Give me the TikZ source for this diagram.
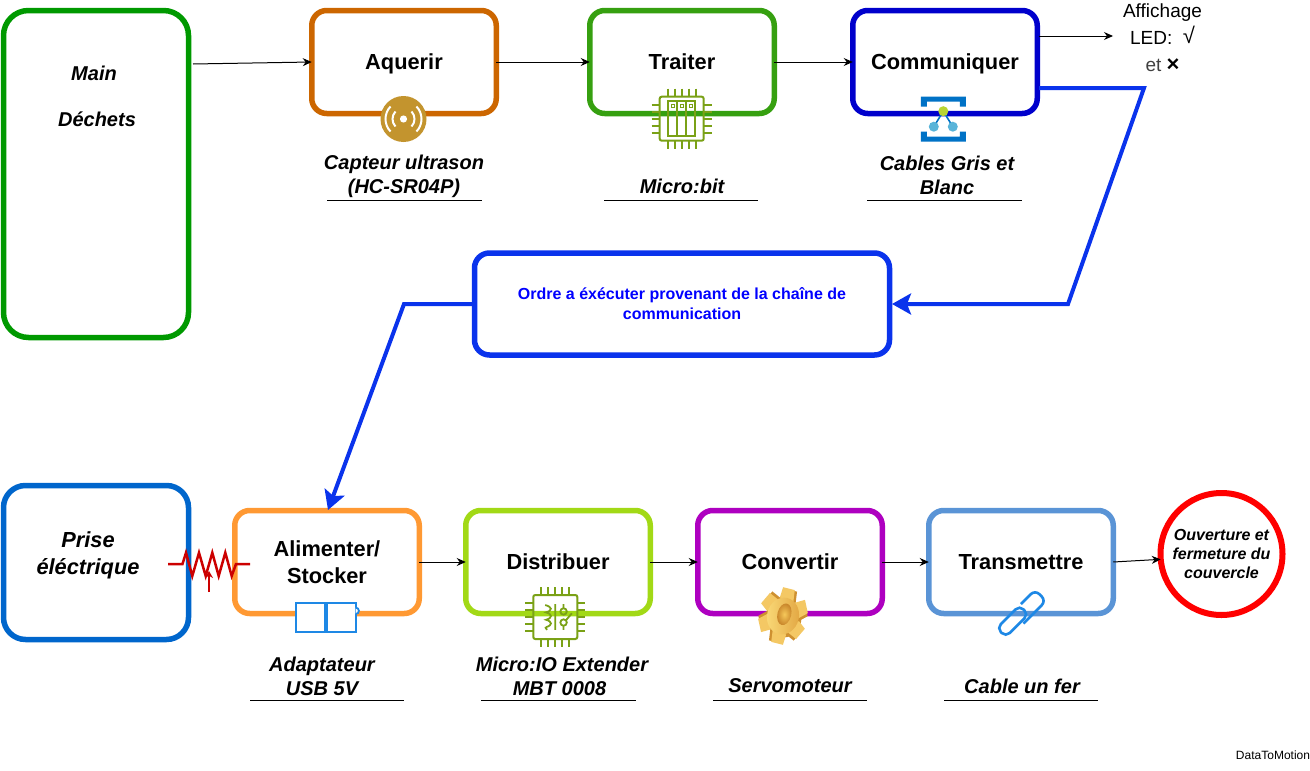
\documentclass[tikz,border=0pt]{standalone}
\usepackage{fontspec}
\setmainfont{Liberation Sans}
\usepackage{tikz}
\usetikzlibrary{positioning, arrows.meta}

\definecolor{cmain}{HTML}{009900}
\definecolor{caq}{HTML}{CC6600}
\definecolor{ctr}{HTML}{36A010}
\definecolor{ccom}{HTML}{0000CC}
\definecolor{cordre}{HTML}{0A33EC}
\definecolor{cprise}{HTML}{0066CC}
\definecolor{cali}{HTML}{FF9933}
\definecolor{cdist}{HTML}{A2D916}
\definecolor{cconv}{HTML}{AE00C0}
\definecolor{ctrans}{HTML}{5A94D6}
\definecolor{cchip}{HTML}{7AA116}
\definecolor{cicon}{HTML}{1E88E5}
\definecolor{cbrass}{HTML}{C3942E}
\definecolor{cazure}{HTML}{0072C6}
\definecolor{cnode}{HTML}{59B4D9}
\definecolor{clime}{HTML}{B8D432}
\definecolor{cres}{HTML}{CC0000}

\tikzset{
  box/.style={draw, fill=white, line width=5.5pt, rounded corners=15pt, outer sep=0pt,
    minimum width=184.5pt, minimum height=103pt, align=center,
    font=\bfseries\fontsize{21.8}{27}\selectfont},
  one/.style={text height=18pt, text depth=3.4pt},
  capt/.style={align=center, inner sep=0pt, font=\bfseries\itshape\fontsize{20}{24}\selectfont},
  uline/.style={line width=1pt},
  flow/.style={->, line width=1pt},
  order/.style={->, cordre, line width=4pt, >={Stealth[length=19pt,width=21pt,inset=4pt]}},
  chip/.pic={
    \draw[cchip, line width=2pt, rounded corners=2pt] (-22,-22) rectangle (22,22);
    \foreach \p in {-14,-7,0,7,14} {
      \draw[cchip, line width=2pt] (\p,-30) -- (\p,-22) (\p,22) -- (\p,30)
        (-30,\p) -- (-22,\p) (22,\p) -- (30,\p);
    }
  }
}

\begin{document}
\begin{tikzpicture}[x=1pt, y=-1pt, >={Stealth[length=9pt,width=8pt]}, on grid, node distance=231pt]
\useasboundingbox (0,0) rectangle (1310,771);

%% top row
\node[box, draw=cmain, rounded corners=25pt, minimum width=185pt, minimum height=327pt] (main) at (96,174) {};
\node[capt, font=\bfseries\itshape\fontsize{20}{46}\selectfont] (dechets) at (97,96) {Main\hspace*{6pt}\\Déchets};
\node[box, one, draw=caq] (aq) at (404,62) {Aquerir};
\node[box, one, draw=ctr] (tr) [right=278pt of aq] {Traiter};
\node[box, one, draw=ccom] (com) [right=263pt of tr] {Communiquer};
\node[align=center, inner sep=0pt, font=\fontsize{19}{27}\selectfont] (led) at (1162.5,38) {Affichage\\LED:\ \ \raisebox{1pt}{\fontsize{22}{27}\selectfont √}\\\textcolor{black!75}{et} \textbf{\fontsize{22}{27}\selectfont ×}};

\node[capt] (captaq) [below=114.5pt of aq] {Capteur ultrason\\(HC-SR04P)};
\node[capt] (capttr) [below=124pt of tr] {Micro:bit};
\node[capt] (captcom) [below right=113pt and 2pt of com] {Cables Gris et\\Blanc};

%% middle
\node[box, draw=cordre, minimum width=415pt, minimum height=102pt,
  text=blue, font=\bfseries\fontsize{16}{20}\selectfont] (ordre) at (682,304)
  {Ordre a éxécuter provenant de la chaîne de\\communication};

%% bottom row
\node[box, draw=cprise, rounded corners=22pt, minimum width=185pt, minimum height=154pt] (prise) at (96,562.5) {};
\node[capt, font=\bfseries\itshape\fontsize{21.8}{27}\selectfont] (prisetxt) at (88,555.5) {Prise\\éléctrique};
\node[box, draw=cali] (ali) at (327,562) {Alimenter/\\Stocker};
\node[box, one, draw=cdist] (dist) [right of=ali] {Distribuer};
\node[box, one, draw=cconv] (conv) [right=232pt of dist] {Convertir};
\node[box, one, draw=ctrans] (trans) [right of=conv] {Transmettre};
\node[circle, draw=red, fill=white, line width=6pt, minimum size=122pt, inner sep=0pt, outer sep=0pt, align=center,
  font=\bfseries\itshape\fontsize{16}{19}\selectfont] (ouv) at (1221.5,554) {Ouverture et\\fermeture du\\couvercle};

\node[capt] (captali) [below left=114pt and 5pt of ali] {Adaptateur\\USB 5V};
\node[capt] (captdist) [below right=114pt and 4pt of dist] {Micro:IO Extender\\MBT 0008\hspace*{5pt}};
\node[capt] (captconv) [below=124pt of conv] {Servomoteur};
\node[capt] (capttrans) [below right=124pt and 1pt of trans] {Cable un fer};

\node[inner sep=0pt, font=\fontsize{12}{14}\selectfont] (brand) at (1273,755) {DataToMotion};

%% underlines
\foreach \a/\b/\y in {327/482/200, 604/758/200, 867/1022/200, 250/404/700, 481/636/700, 713/867/700, 944/1098/700} {
  \coordinate (ulA) at (\a,\y);
  \coordinate (ulB) at (\b,\y);
  \draw[uline] (ulA) -- (ulB);
}

%% arrows
\coordinate (mainout) at (193,64);
\coordinate (comout) at (1039,36);
\coordinate (ledin) at (1113,36);
\coordinate (bendA) at (1144,88);
\coordinate (bendB) at (1068,304);
\coordinate (comblue) at (1039,88);
\coordinate (ordrein) at (892,304);
\coordinate (bendC) at (404,304);
\coordinate (alitop) at (328,510);
\draw[flow] (mainout) -- (aq.west);
\draw[flow] (aq) -- (tr);
\draw[flow] (tr) -- (com);
\draw[flow] (comout) -- (ledin);
\draw[flow] (ali) -- (dist);
\draw[flow] (dist) -- (conv);
\draw[flow] (conv) -- (trans);
\draw[flow] (trans.east) -- (ouv.185);
\draw[order] (comblue) -- (bendA) -- (bendB) -- (ordrein);
\draw[order] (ordre.west) -- (bendC) -- (alitop);

%% capteur icon
\begin{scope}[shift={(403.5,119)}]
  \fill[cbrass] (0,0) circle (23);
  \fill[white] (0,0) circle (3.6);
  \draw[white, line width=2pt] (137:11) arc (137:223:11) (-43:11) arc (-43:43:11);
  \draw[white, line width=2pt] (136:18) arc (136:224:18) (-44:18) arc (-44:44:18);
\end{scope}

%% micro:bit
\begin{scope}[shift={(681.7,118.7)}]
  \pic {chip};
  \draw[cchip, line width=2pt] (-13.5,-17.5) rectangle (13.5,17.5)
    (-4.5,-17.5) -- (-4.5,17.5) (4.5,-17.5) -- (4.5,17.5);
  \foreach \p in {-9,0,9} \draw[cchip, line width=1pt] (\p-1.5,-14.5) rectangle (\p+1.5,-11.5);
\end{scope}

%% azure
\begin{scope}[shift={(943.3,118.7)}]
  \fill[cazure] (-22.5,-22) rectangle (22.5,-17) (-22.5,-22) rectangle (-16.5,-12) (16.5,-22) rectangle (22.5,-12)
    (-22.5,18) rectangle (22.5,23) (-22.5,13) rectangle (-16.5,23) (16.5,13) rectangle (22.5,23);
  \draw[cazure, line width=1.6pt] (-9.5,8) -- (0,-7.5) -- (9.5,8);
  \fill[clime] (0,-7.5) circle (5);
  \fill[cnode] (-9.5,8) circle (5) (9.5,8) circle (5);
\end{scope}

%% resistor
\coordinate (resA) at (168,564);
\coordinate (resB) at (250,564);
\draw[cres, line width=2.5pt] (resA) -- (182.5,564) -- (186,552.7) -- (192.3,576) -- (199,552.7)
  -- (205.7,576) -- (212.3,552.7) -- (218.7,576) -- (225.3,552.7) -- (231.7,576) -- (236,564) -- (resB);
\draw[cres, line width=2.5pt, -{Stealth[length=7pt,width=8pt]}] (209,592) -- (209,571);

%% battery
\draw[cicon, line width=1.8pt, fill=white] (296,603.3) rectangle (325,631.7);
\draw[cicon, line width=1.8pt, fill=white] (327.3,603.3) rectangle (355.7,631.7);
\draw[cicon, line width=1.8pt, fill=white] (355.7,614) arc (90:-90:3.2);

%% micro:IO
\begin{scope}[shift={(555.3,617)}, scale=0.92]
  \pic {chip};
  \draw[cchip, line width=1.8pt] (-11,-13) .. controls (-3,-11) and (-3,-7) .. (-10,-5) .. controls (-3,-3) and (-3,1) .. (-10,3)
    .. controls (-3,5) and (-3,9) .. (-10,11) (-11,11) -- (-9,14)
    (0,-14) -- (0,14)
    (9,-14) -- (9,-9.5) (9,9.5) -- (9,14)
    (9,-6) circle (3.5) (9,6) circle (3.5) (12,3) -- (18,-4);
\end{scope}

%% gear
\begin{scope}[shift={(783,616)}, rotate=-14, xscale=0.86]
  \fill[fill={rgb,255:red,206;green,144;blue,48}] (3,2) circle (19);
  \foreach \a in {0,60,...,300} {
    \fill[fill={rgb,255:red,206;green,144;blue,48}, rotate=\a] (-6,-27) -- (9,-27) -- (11,-13) -- (-6,-13) -- cycle;
    \fill[fill={rgb,255:red,244;green,200;blue,100}, rotate=\a] (-8,-28) -- (6,-28) -- (8,-14) -- (-9,-14) -- cycle;
  }
  \shade[left color={rgb,255:red,250;green,218;blue,120}, right color={rgb,255:red,226;green,166;blue,66}] (0,0) circle (18.5);
  \shade[inner color={rgb,255:red,246;green,200;blue,90}, outer color={rgb,255:red,198;green,130;blue,40}] (1,-2) ellipse (8 and 11);
\end{scope}

%% chain
\begin{scope}[shift={(1022,615)}, rotate=45]
  \draw[cicon, line width=2.6pt, rounded corners=5.5pt] (-27,-8.5) rectangle (5,4);
  \draw[cicon, line width=2.6pt, rounded corners=6pt] (7,-8.5) -- (27,-8.5) -- (27,7) -- (-5,7);
\end{scope}
\end{tikzpicture}
\end{document}
